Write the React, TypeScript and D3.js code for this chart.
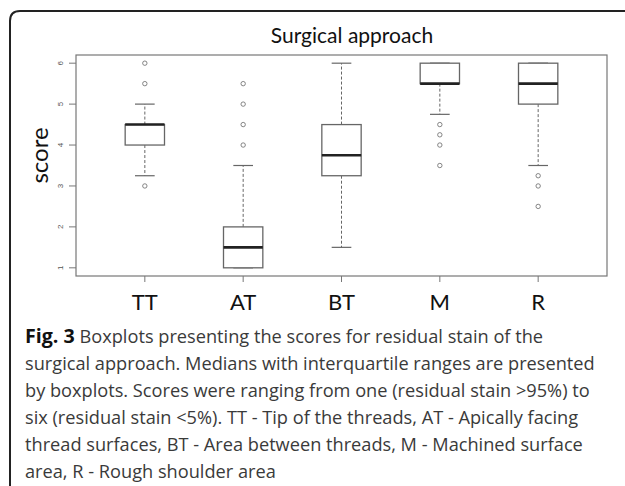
import * as d3 from "d3";
import { useEffect, useRef } from "react";

const groups = ["TT", "AT", "BT", "M", "R"];
const lowerWhisker = [3.25, 1, 1.5, 4.75, 3.5];
const q1 = [4, 1, 3.25, 5.5, 5];
const medians = [4.5, 1.5, 3.75, 5.5, 5.5];
const q3 = [4.5, 2, 4.5, 6, 6];
const upperWhisker = [5, 3.5, 6, 6, 6];
const outliers = [
  [3, 5.5, 6],
  [4, 4.5, 5, 5.5],
  [],
  [4.5, 4.25, 4, 3.5],
  [3.25, 3, 2.5],
];
const yTicks = [1, 2, 3, 4, 5, 6];

const title = "Surgical approach";
const yLabel = "score";
const captionBold = "Fig. 3";
const captionLines = [
  " Boxplots presenting the scores for residual stain of the",
  "surgical approach. Medians with interquartile ranges are presented",
  "by boxplots. Scores were ranging from one (residual stain >95%) to",
  "six (residual stain <5%). TT - Tip of the threads, AT - Apically facing",
  "thread surfaces, BT - Area between threads, M - Machined surface",
  "area, R - Rough shoulder area",
];

export default function App() {
  const svgRef = useRef<SVGSVGElement | null>(null);

  useEffect(() => {
    if (!svgRef.current) return;
    const svg = d3.select(svgRef.current);
    svg.selectAll("*").remove();

    const width = 625;
    const height = 486;
    const plot = { left: 76, right: 607, top: 55, bottom: 276 };

    // R-style ranges: 4% padding on both axes
    const x = d3.scaleLinear().domain([0.3, 5.7]).range([plot.left, plot.right]);
    const y = d3.scaleLinear().domain([0.8, 6.2]).range([plot.bottom, plot.top]);
    const boxW = x(1.4) - x(1);
    const capW = boxW / 2;

    svg.append("rect").attr("width", width).attr("height", height).attr("fill", "#fff");

    // figure frame, open to the right and bottom
    svg.append("path")
      .attr("d", `M${width},11 H20 Q10,11 10,21 V${height}`)
      .attr("fill", "none")
      .attr("stroke", "#222")
      .attr("stroke-width", 2);

    // title
    svg.append("text")
      .attr("x", 352)
      .attr("y", 43)
      .attr("text-anchor", "middle")
      .attr("font-family", "Lato, sans-serif")
      .attr("font-size", 21)
      .attr("fill", "#111")
      .text(title);

    // plot border
    svg.append("rect")
      .attr("x", plot.left)
      .attr("y", plot.top)
      .attr("width", plot.right - plot.left)
      .attr("height", plot.bottom - plot.top)
      .attr("fill", "none")
      .attr("stroke", "#777")
      .attr("stroke-width", 1.2);

    // y axis
    const yAxis = svg.append("g").attr("transform", `translate(${plot.left},0)`);
    yAxis.selectAll("line")
      .data(yTicks)
      .enter()
      .append("line")
      .attr("x1", -7)
      .attr("x2", 0)
      .attr("y1", d => y(d))
      .attr("y2", d => y(d))
      .attr("stroke", "#777");
    yAxis.selectAll("text")
      .data(yTicks)
      .enter()
      .append("text")
      .attr("transform", d => `translate(-13,${y(d)}) rotate(-90)`)
      .attr("text-anchor", "middle")
      .attr("font-family", "Liberation Sans, sans-serif")
      .attr("font-size", 8)
      .attr("fill", "#555")
      .text(d => d);

    svg.append("text")
      .attr("transform", `translate(48,${(plot.top + plot.bottom) / 2 - 10}) rotate(-90)`)
      .attr("text-anchor", "middle")
      .attr("font-family", "Lato, sans-serif")
      .attr("font-size", 24)
      .attr("fill", "#111")
      .text(yLabel);

    // x axis
    const xAxis = svg.append("g").attr("transform", `translate(0,${plot.bottom})`);
    xAxis.selectAll("line")
      .data(groups)
      .enter()
      .append("line")
      .attr("x1", (_, i) => x(i + 1))
      .attr("x2", (_, i) => x(i + 1))
      .attr("y1", 0)
      .attr("y2", 6)
      .attr("stroke", "#777");
    xAxis.selectAll("text")
      .data(groups)
      .enter()
      .append("text")
      .attr("x", (_, i) => x(i + 1))
      .attr("y", 34)
      .attr("text-anchor", "middle")
      .attr("font-family", "Lato, sans-serif")
      .attr("font-size", 22)
      .attr("fill", "#111")
      .text(d => d);

    // boxes
    const g = svg.selectAll("g.box")
      .data(groups)
      .enter()
      .append("g")
      .attr("class", "box");

    g.append("line")
      .attr("x1", (_, i) => x(i + 1))
      .attr("x2", (_, i) => x(i + 1))
      .attr("y1", (_, i) => y(q3[i]))
      .attr("y2", (_, i) => y(upperWhisker[i]))
      .attr("stroke", "#666")
      .attr("stroke-dasharray", "3,2");
    g.append("line")
      .attr("x1", (_, i) => x(i + 1))
      .attr("x2", (_, i) => x(i + 1))
      .attr("y1", (_, i) => y(q1[i]))
      .attr("y2", (_, i) => y(lowerWhisker[i]))
      .attr("stroke", "#666")
      .attr("stroke-dasharray", "3,2");
    g.append("line")
      .attr("x1", (_, i) => x(i + 1) - capW / 2)
      .attr("x2", (_, i) => x(i + 1) + capW / 2)
      .attr("y1", (_, i) => y(upperWhisker[i]))
      .attr("y2", (_, i) => y(upperWhisker[i]))
      .attr("stroke", "#666")
      .attr("stroke-width", 1.2);
    g.append("line")
      .attr("x1", (_, i) => x(i + 1) - capW / 2)
      .attr("x2", (_, i) => x(i + 1) + capW / 2)
      .attr("y1", (_, i) => y(lowerWhisker[i]))
      .attr("y2", (_, i) => y(lowerWhisker[i]))
      .attr("stroke", "#666")
      .attr("stroke-width", 1.2);
    g.append("rect")
      .attr("x", (_, i) => x(i + 1) - boxW / 2)
      .attr("y", (_, i) => y(q3[i]))
      .attr("width", boxW)
      .attr("height", (_, i) => y(q1[i]) - y(q3[i]))
      .attr("fill", "#fff")
      .attr("stroke", "#666")
      .attr("stroke-width", 1.3);
    g.append("line")
      .attr("x1", (_, i) => x(i + 1) - boxW / 2)
      .attr("x2", (_, i) => x(i + 1) + boxW / 2)
      .attr("y1", (_, i) => y(medians[i]))
      .attr("y2", (_, i) => y(medians[i]))
      .attr("stroke", "#222")
      .attr("stroke-width", 2.6);
    g.selectAll("circle")
      .data((_, i) => outliers[i].map(v => ({ i, v })))
      .enter()
      .append("circle")
      .attr("cx", d => x(d.i + 1))
      .attr("cy", d => y(d.v))
      .attr("r", 2.2)
      .attr("fill", "none")
      .attr("stroke", "#777")
      .attr("stroke-width", 0.9);

    // caption: size the font so the second line spans about 570px like the figure
    const probe = svg.append("text")
      .attr("font-family", "Open Sans, sans-serif")
      .attr("font-size", 18)
      .text(captionLines[1]);
    const probeW = (probe.node() as SVGTextElement).getComputedTextLength();
    probe.remove();
    const capSize = probeW > 0 ? (18 * 570) / probeW : 18.5;

    const cap = svg.append("text")
      .attr("font-family", "Open Sans, sans-serif")
      .attr("font-size", capSize)
      .attr("fill", "#3a3a3a");
    captionLines.forEach((line, i) => {
      const row = cap.append("tspan").attr("x", 25).attr("y", 343 + i * 27);
      if (i === 0) {
        row.append("tspan")
          .attr("font-weight", "bold")
          .attr("font-size", capSize * 1.08)
          .attr("fill", "#111")
          .text(captionBold);
        row.append("tspan").text(line);
      } else {
        row.text(line);
      }
    });
  }, []);

  return (
    <svg
      ref={svgRef}
      width={625}
      height={486}
      style={{ position: "absolute", left: 0, top: 0 }}
    />
  );
}
